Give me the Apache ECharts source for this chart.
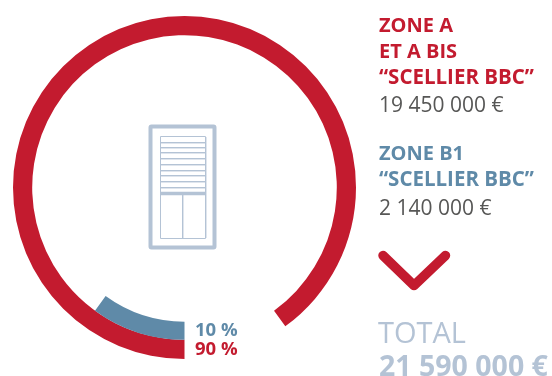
<!DOCTYPE html>
<html>
<head>
<meta charset="utf-8">
<style>html,body{margin:0;padding:0;background:#fff}#c{width:552px;height:376px}</style>
<script src="https://cdn.jsdelivr.net/npm/echarts@6/dist/echarts.min.js"></script>
</head>
<body>
<div id="c"></div>
<script>
// Shares of the Scellier BBC budget per zone, in percent
const zones = ['Zone A et A bis', 'Zone B1'];
const shares = [90, 10];
const amounts = ['19 450 000 €', '2 140 000 €'];
const total = '21 590 000 €';

const RED = '#c31b2f', BLUE = '#5f8aa8', PALE = '#b4c3d5', FAINT = '#dfe5ed', GREY = '#575756';
const FONT = '"Open Sans", sans-serif';

const chart = echarts.init(document.getElementById('c'), null, { renderer: 'canvas' });

// One ring per zone, each starting at six o'clock and running clockwise
function ring(i, radius) {
  return {
    type: 'pie', silent: true, animation: false,
    center: [184.5, 187.5], radius,
    startAngle: 270, clockwise: true,
    label: { show: false }, labelLine: { show: false },
    itemStyle: { borderWidth: 0 },
    data: [
      { name: zones[i], value: shares[i], itemStyle: { color: i === 0 ? RED : BLUE } },
      { name: 'rest', value: 100 - shares[i], itemStyle: { color: 'rgba(0,0,0,0)' } }
    ]
  };
}

function text(x, y, str, size, weight, fill, align) {
  return { type: 'text', x, y, silent: true,
    style: { text: str, font: weight + ' ' + size + 'px ' + FONT, fill, textAlign: align || 'left', textVerticalAlign: 'middle' } };
}
function rule(x1, y1, x2, y2, w, color) {
  return { type: 'line', silent: true, shape: { x1, y1, x2, y2 }, style: { stroke: color, lineWidth: w } };
}

// Window icon in the middle of the ring
const slats = [142, 147, 152, 158, 164, 170, 175, 181, 187];
const icon = [
  { type: 'rect', silent: true, shape: { x: 150.5, y: 126.5, width: 64, height: 121, r: 1 },
    style: { fill: 'none', stroke: PALE, lineWidth: 4 } },
  ...slats.map(y => rule(161, y + 1.5, 205, y + 1.5, 1, FAINT)),
  ...slats.map(y => rule(161, y + 0.5, 205, y + 0.5, 1, PALE)),
  rule(206.5, 137, 206.5, 238, 1, FAINT),
  rule(183.5, 195, 183.5, 238, 1, FAINT),
  { type: 'rect', silent: true, shape: { x: 160.5, y: 136.5, width: 45, height: 102 },
    style: { fill: 'none', stroke: PALE, lineWidth: 1 } },
  rule(161, 193.5, 205, 193.5, 3.5, PALE),
  rule(182.5, 194, 182.5, 238, 1, PALE)
];

chart.setOption({
  animation: false,
  series: [ring(0, [152.3, 171.5]), ring(1, [134.2, 152.3])],
  graphic: { elements: [
    ...icon,
    text(195, 330.5, shares[1] + ' %', 18.5, 700, BLUE),
    text(195, 350, shares[0] + ' %', 18.5, 700, RED),
    text(379, 26, 'ZONE A', 20, 700, RED),
    text(379, 52, 'ET A BIS', 20, 700, RED),
    text(379, 78.5, '“SCELLIER BBC”', 20.5, 700, RED),
    text(379, 106, amounts[0], 21, 400, GREY),
    text(379, 154.5, 'ZONE B1', 20, 700, BLUE),
    text(379, 180.5, '“SCELLIER BBC”', 20.5, 700, BLUE),
    text(379, 209, amounts[1], 21, 400, GREY),
    { type: 'polyline', silent: true,
      shape: { points: [[383, 255.5], [414, 285.5], [445.5, 255.5]] },
      style: { stroke: RED, lineWidth: 9.5, fill: 'none', lineCap: 'round', lineJoin: 'round' } },
    text(378, 335, 'TOTAL', 29, 400, PALE),
    text(379, 368, total, 28.5, 700, PALE)
  ] }
});
</script>
</body>
</html>
